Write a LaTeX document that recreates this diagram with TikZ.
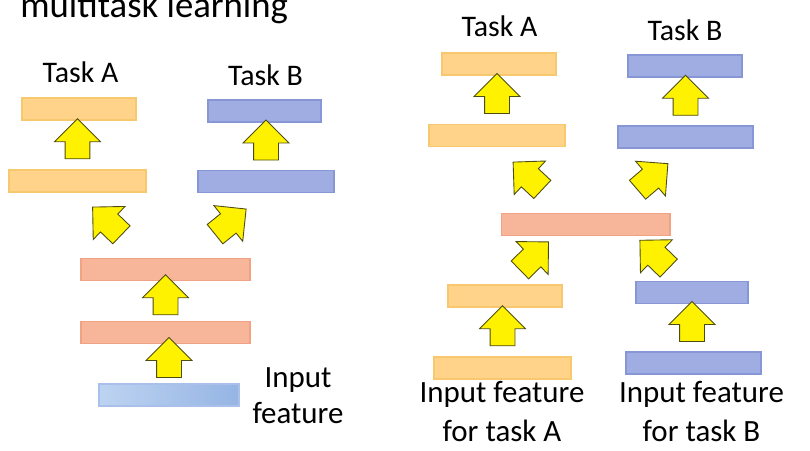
\documentclass[tikz,border=0pt]{standalone}
\usepackage{fontspec}
\setmainfont{Carlito}
\usepackage{xcolor}
\usepackage{tikz}
\usetikzlibrary{calc}
\usetikzlibrary{shapes}
\usetikzlibrary{shapes.arrows}

\definecolor{barA}{HTML}{FFD48A}
\definecolor{barAline}{HTML}{F7C86E}
\definecolor{barB}{HTML}{A0ADE3}
\definecolor{barBline}{HTML}{8797D6}
\definecolor{barS}{HTML}{F7B69A}
\definecolor{barSline}{HTML}{EFA284}
\definecolor{inL}{HTML}{BDD3F1}
\definecolor{inR}{HTML}{96B5E4}
\definecolor{inLine}{HTML}{A9C1EA}
\definecolor{arrowline}{HTML}{4D4D12}

\begin{document}
\begin{tikzpicture}[x=0.02cm, y=-0.02cm,
  bar/.style={rectangle, minimum height=0.44cm, inner sep=0pt, line width=0.6pt},
  taska/.style={bar, fill=barA, draw=barAline},
  taskb/.style={bar, fill=barB, draw=barBline},
  shared/.style={bar, fill=barS, draw=barSline},
  blockup/.style={single arrow, fill=yellow, draw=arrowline, line width=0.5pt,
    minimum height=0.8cm, inner xsep=0pt, inner ysep=0.24cm,
    single arrow head extend=0.21cm, sloped, allow upside down},
  tasklabel/.style={font=\fontsize{17}{20}\selectfont, inner sep=0pt},
  inlabel/.style={font=\fontsize{17.6}{20.5}\selectfont, inner sep=0pt, align=center}]
\useasboundingbox (0,0) rectangle (810,450);
\clip (0,0) rectangle (810,450);
\node [anchor=base west, inner sep=0pt, font=\fontsize{20.9}{25}\selectfont] (ttl) at (20,17) {multitask learning};

\node [taska, minimum width=2.28cm] (a2) at (79,109) {};
\node [taska, minimum width=2.74cm] (a1) at (77.5,181) {};
\node [taskb, minimum width=2.26cm] (b2) at (264.5,111) {};
\node [taskb, minimum width=2.72cm] (b1) at (266,181.5) {};
\node [shared, minimum width=3.38cm] (s2) at (165.5,269.5) {};
\node [shared, minimum width=3.38cm] (s1) at (165.5,332.5) {};
\node [bar, left color=inL, right color=inR, draw=inLine, minimum width=2.8cm] (inp) at (169,395) {};
\node [tasklabel, anchor=base] (ta) at (80.5,82) {Task A};
\node [tasklabel, anchor=base] (tb) at (265.5,85) {Task B};
\node [inlabel, anchor=north] (inl) at (298,367) {Input\\feature};

\path (a1.north) -- node [blockup] {} (a1.north |- a2.south);
\path (b1.north) -- node [blockup] {} (b1.north |- b2.south);
\path (s1.north) -- node [blockup] {} (s1.north |- s2.south);
\path (inp.north) -- node [blockup] {} (inp.north |- s1.south);
\path ($(s2.north)+(-20,0)$) -- node [blockup] {} (a1.south);
\path ($(s2.north)+(20,0)$) -- node [blockup] {} (b1.south);

\node [taska, minimum width=2.28cm] (ra2) at (499,64) {};
\node [taska, minimum width=2.72cm] (ra1) at (497,135.5) {};
\node [taskb, minimum width=2.28cm] (rb2) at (685,66) {};
\node [taskb, minimum width=2.70cm] (rb1) at (685.5,137) {};
\node [shared, minimum width=3.38cm] (rs) at (585.5,224.5) {};
\node [taska, minimum width=2.28cm] (ra0m) at (505,296) {};
\node [taska, minimum width=2.74cm] (ra0) at (502.5,368) {};
\node [taskb, minimum width=2.24cm] (rb0m) at (692,292.5) {};
\node [taskb, minimum width=2.70cm] (rb0) at (693.5,363) {};
\node [tasklabel, anchor=base] (rta) at (499.5,36) {Task A};
\node [tasklabel, anchor=base] (rtb) at (685,40) {Task B};
\node [inlabel, anchor=north, font=\fontsize{17.6}{22.2}\selectfont] (inra) at (502,381) {Input feature\\for task A};
\node [inlabel, anchor=north, font=\fontsize{17.6}{22.2}\selectfont] (inrb) at (701.5,381) {Input feature\\for task B};

\path (ra1.north) -- node [blockup] {} (ra1.north |- ra2.south);
\path (rb1.north) -- node [blockup] {} (rb1.north |- rb2.south);
\path ($(rs.north)+(-18,0)$) -- node [blockup] {} (ra1.south);
\path ($(rs.north)+(25,0)$) -- node [blockup] {} (rb1.south);
\path (ra0m.north) -- node [blockup] {} ($(rs.south)+(-31,0)$);
\path ($(rb0m.north)+(-10,0)$) -- node [blockup] {} ($(rs.south)+(50,0)$);
\path (ra0.north) -- node [blockup] {} (ra0.north |- ra0m.south);
\path (rb0m.south |- rb0.north) -- node [blockup] {} (rb0m.south);
\end{tikzpicture}
\end{document}
